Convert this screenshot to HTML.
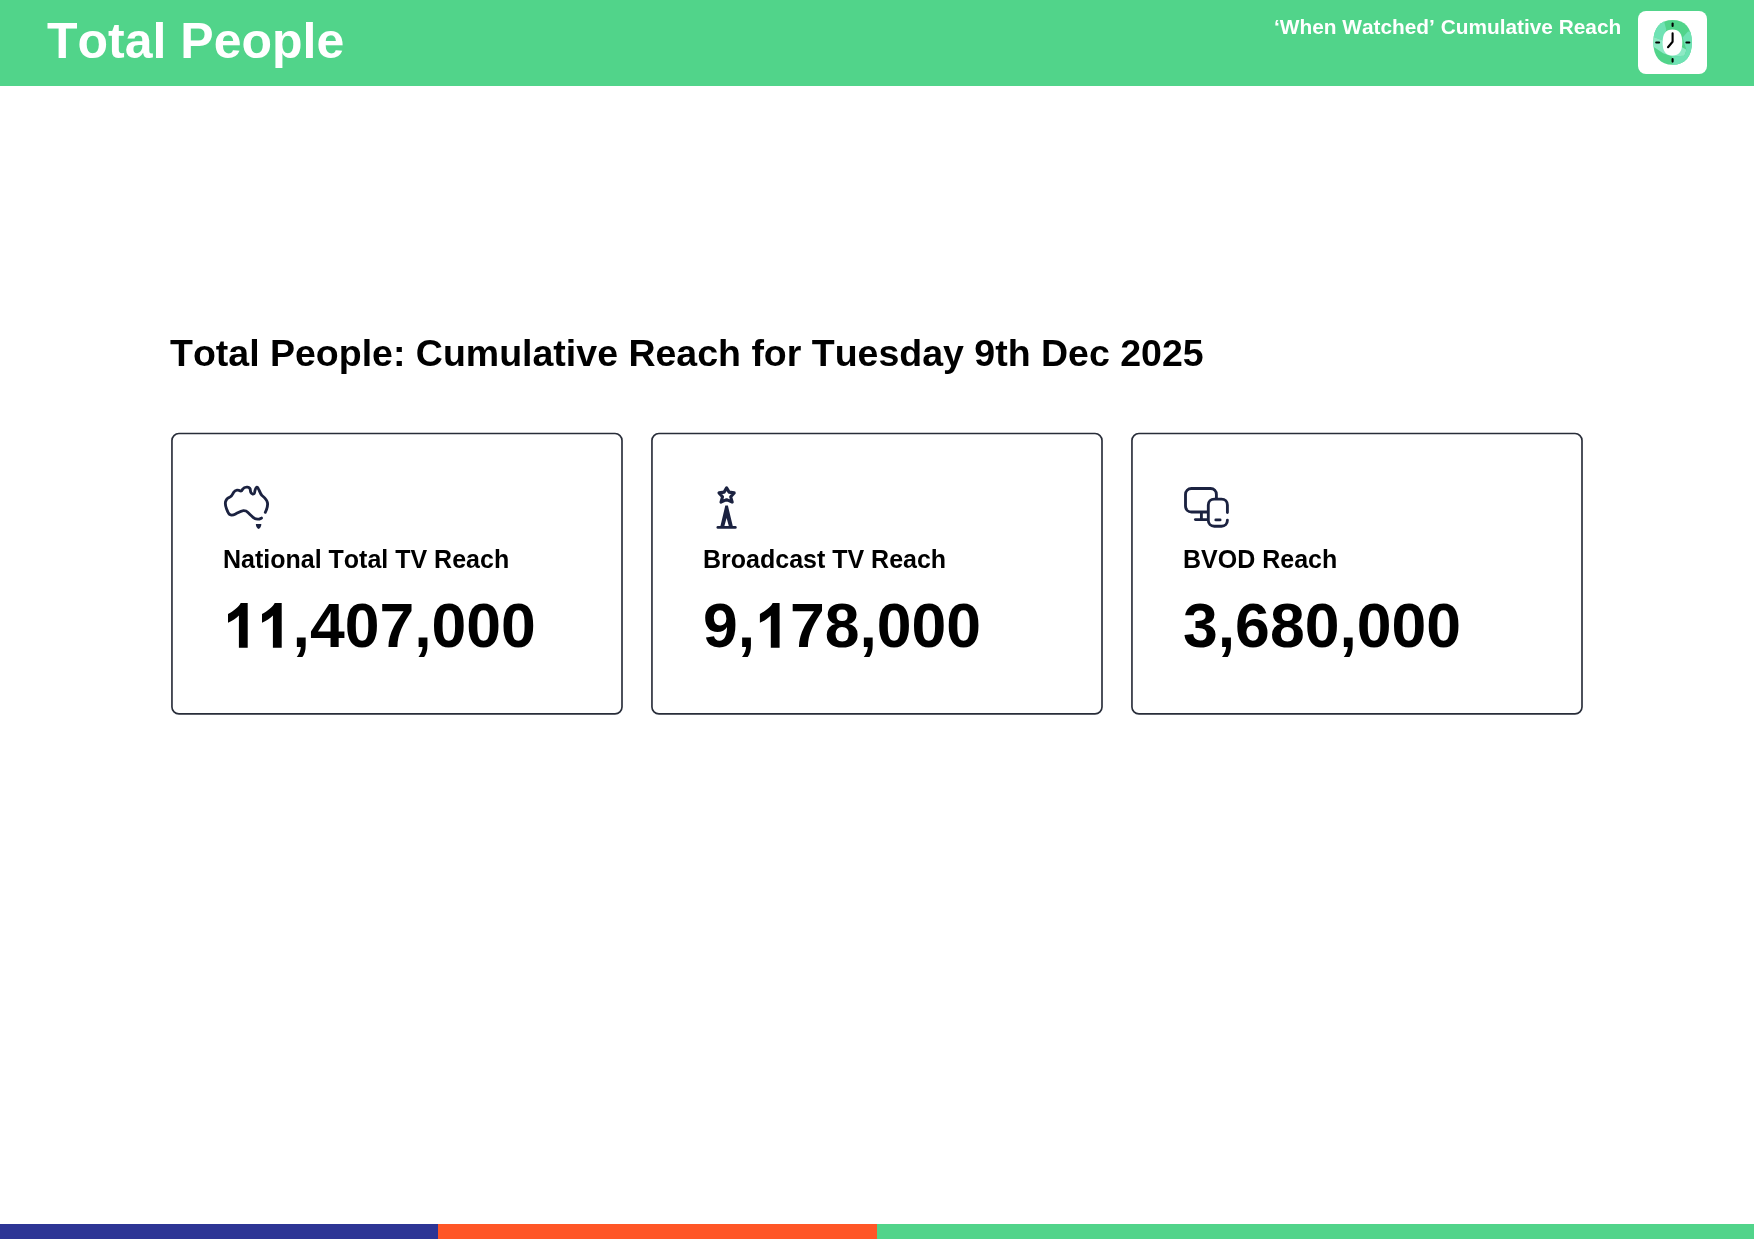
<!DOCTYPE html>
<html>
<head>
<meta charset="utf-8">
<style>
html,body{margin:0;padding:0;}
body{width:1754px;height:1241px;position:relative;overflow:hidden;background:#fff;font-family:"Liberation Sans",sans-serif;font-weight:bold;}
.t{position:absolute;white-space:nowrap;line-height:1;margin:0;will-change:transform;font-kerning:none;}
#hdr{position:absolute;left:0;top:0;width:1754px;height:86px;background:#51D48A;}
#h1{left:47px;top:15.6px;font-size:50px;color:#fff;}
#h2{left:1274px;top:16.8px;font-size:20.833px;color:#fff;}
#sub{left:170px;top:334.5px;font-size:37.5px;color:#000;}
.card{position:absolute;top:433px;width:452px;height:282px;box-sizing:border-box;border:1.75px solid #2f3542;border-radius:8px;}
.lab{font-size:25px;color:#000;top:546.8px;}
.num{font-size:62.5px;color:#000;top:594.3px;}
.o{color:transparent;}
.bar{position:absolute;top:1224px;height:15px;}
</style>
</head>
<body>
<div id="hdr"></div>
<div class="t" id="h1">Total People</div>
<div class="t" id="h2">‘When Watched’ Cumulative Reach</div>

<div class="t" id="sub">Total People: Cumulative Reach for Tuesday 9th Dec 2025</div>


<div class="t lab" style="left:223px">National Total TV Reach</div>
<div class="t lab" style="left:703px">Broadcast TV Reach</div>
<div class="t lab" style="left:1183px">BVOD Reach</div>

<div class="t num" style="left:222.8px"><span class="o">1</span><span class="o">1</span>,407,000</div>
<div class="t num" style="left:703px">9,<span class="o">1</span>78,000</div>
<div class="t num" style="left:1183px">3,680,000</div>

<div class="bar" style="left:0;width:438px;background:#2D3595"></div>
<div class="bar" style="left:438px;width:439px;background:#FF5627"></div>
<div class="bar" style="left:877px;width:877px;background:#51D48A"></div>

<svg style="position:absolute;left:0;top:0" width="1754" height="1241" viewBox="0 0 1754 1241">
<g fill="none" stroke="#282d39" stroke-width="1.65">
<rect x="171.95" y="433.5" width="450.05" height="280.4" rx="7"/>
<rect x="651.95" y="433.5" width="450.05" height="280.4" rx="7"/>
<rect x="1131.95" y="433.5" width="450.05" height="280.4" rx="7"/>
</g>
<path transform="translate(228.0,0)" d="M12.7,603 L19.7,603 L19.7,647.7 L10.9,647.7 L10.9,615.5 C8.5,618 4,621.2 0,622.75 L0,613.9 C5,611.5 11.5,606.5 12.7,603 Z" fill="#000"/>
<path transform="translate(262.0,0)" d="M12.7,603 L19.7,603 L19.7,647.7 L10.9,647.7 L10.9,615.5 C8.5,618 4,621.2 0,622.75 L0,613.9 C5,611.5 11.5,606.5 12.7,603 Z" fill="#000"/>
<path transform="translate(759.9,0)" d="M12.7,603 L19.7,603 L19.7,647.7 L10.9,647.7 L10.9,615.5 C8.5,618 4,621.2 0,622.75 L0,613.9 C5,611.5 11.5,606.5 12.7,603 Z" fill="#000"/>
<!-- clock badge -->
<rect x="1638" y="11" width="69" height="63" rx="8" fill="#fff"/>
<defs><clipPath id="cc"><path d="M1672.6,20.1 C1684.95,20.1 1691.8999999999999,28.15 1691.8999999999999,42.45 C1691.8999999999999,56.75 1684.95,64.80000000000001 1672.6,64.80000000000001 C1660.25,64.80000000000001 1653.3,56.75 1653.3,42.45 C1653.3,28.15 1660.25,20.1 1672.6,20.1 Z"/></clipPath></defs>
<path d="M1672.6,20.1 C1684.95,20.1 1691.8999999999999,28.15 1691.8999999999999,42.45 C1691.8999999999999,56.75 1684.95,64.80000000000001 1672.6,64.80000000000001 C1660.25,64.80000000000001 1653.3,56.75 1653.3,42.45 C1653.3,28.15 1660.25,20.1 1672.6,20.1 Z" fill="#51D48A"/>
<g clip-path="url(#cc)">
<polygon points="1650,18 1663.2,18 1666.3,29.8 1663,40.6 1653.6,37 1650,37" fill="#6FE2B4"/>
<polygon points="1650,37 1653.6,37 1663,40.6 1682,47.3 1686.5,49.7 1684.4,55.8 1672.3,56.4 1663.2,53.3 1654.2,47.3 1650,45" fill="#8EE9C5"/>
<polygon points="1688,31.6 1695,31.6 1695,67 1672.3,67 1672.3,56.4 1684.4,55.8 1686.5,49.7 1684.4,43.7 1682.6,37.6" fill="#6FE2B4"/>
</g>
<path d="M1672.45,29.5 C1679.15,29.5 1682.3,33.66 1682.3,42.5 C1682.3,51.34 1679.15,55.5 1672.45,55.5 C1665.75,55.5 1662.6000000000001,51.34 1662.6000000000001,42.5 C1662.6000000000001,33.66 1665.75,29.5 1672.45,29.5 Z" fill="#fff"/>
<g stroke="#000" stroke-width="2.1" stroke-linecap="round" fill="none">
<line x1="1672.6" y1="23.6" x2="1672.6" y2="26"/>
<line x1="1672.6" y1="59" x2="1672.6" y2="61.6"/>
<line x1="1656.2" y1="42.5" x2="1659.1" y2="42.5"/>
<line x1="1686.4" y1="42.5" x2="1689.3" y2="42.5"/>
<path d="M1672.6,33.2 L1672.6,41.8 L1668,47.2" stroke-linejoin="round"/>
</g>
<!-- australia -->
<g stroke="#1B2240" stroke-width="2.85" stroke-linecap="round" stroke-linejoin="round" fill="none">
<path d="M265.3,512.3 C267,509 267.9,506 267.5,503 C267,499.5 264.5,497.5 262,495.5 C260,493.5 259.5,490.5 258.5,489 C258,487.5 257.3,487 256.9,487.1 C255.5,487.5 255,490 254.6,492.5 C254.3,494 253.5,494.2 252.5,494 C251,493.5 250.5,492.5 250.4,490.5 C250.4,488.6 249.5,487.3 247.5,487.1 C245.5,486.9 243.8,487.4 242.8,489 C242,490.6 241.4,491.3 240.5,491 C239.5,490.4 238.5,490 237,490.1 C235.5,490.3 234.5,491 233.5,492.6 C232.5,494.5 232,496 230,497 C227.5,498 226,499.5 225.5,501.8 C225.1,504 225.6,506.5 226.6,509 C227.5,511.5 228.3,513.6 229.8,514.6 C231.5,515.6 233.5,515 235.6,513.9 C238,512.7 241,510.8 243.4,510.6 C245.5,510.5 246.6,511 248,512.5 C250,514.5 252.2,516.7 254.2,518.2 C255.8,519.3 257.5,519.3 259.5,519 C260.5,518.8 261,518.4 261.5,518.1"/>
</g>
<path d="M255.9,523.9 L261.3,523.9 C261.5,526 260.3,528 258.6,529 C256.9,528 255.7,526 255.9,523.9 Z" fill="#1B2240"/>
<!-- tower -->
<g stroke="#1B2240" stroke-width="2.6" stroke-linecap="round" stroke-linejoin="round" fill="none">
<path d="M726.6,487.9 L729.1,492.1 L734.2,492.9 L730.7,496.8 L732.2,502.1 L726.6,499.7 L721,502.1 L722.5,496.8 L719,492.9 L724.1,492.1 Z" stroke-width="3.1"/>
<line x1="717.8" y1="527.4" x2="735.4" y2="527.4"/>
</g>
<path d="M725.3,505.6 L727.9,505.6 L733,527 L720.2,527 Z M726.6,518 L724.1,527 L729.1,527 Z" fill="#1B2240" fill-rule="evenodd"/>
<!-- devices -->
<g stroke="#1B2240" stroke-width="2.85" stroke-linecap="round" stroke-linejoin="round" fill="none">
<path d="M1216.4,498.6 L1216.4,494.5 C1216.4,491 1214,488.5 1210.5,488.5 L1191.5,488.5 C1188,488.5 1185.5,491 1185.5,494.5 L1185.5,506 C1185.5,509.5 1188,512 1191.5,512 L1207.5,512"/>
<line x1="1201.4" y1="512.5" x2="1201.4" y2="519.5"/>
<line x1="1195.4" y1="519.6" x2="1207.5" y2="519.6"/>
<path d="M1227.4,512.5 L1227.4,505 C1227.4,501.5 1225,499.1 1221.5,499.1 L1214.3,499.1 C1210.8,499.1 1208.3,501.5 1208.3,505 L1208.3,520.2 C1208.3,523.7 1210.8,526.2 1214.3,526.2 L1221.5,526.2 C1225,526.2 1227.4,523.7 1227.4,520.2"/>
<line x1="1215.8" y1="519.9" x2="1220.1" y2="519.9"/>
</g>
</svg>
</body>
</html>
